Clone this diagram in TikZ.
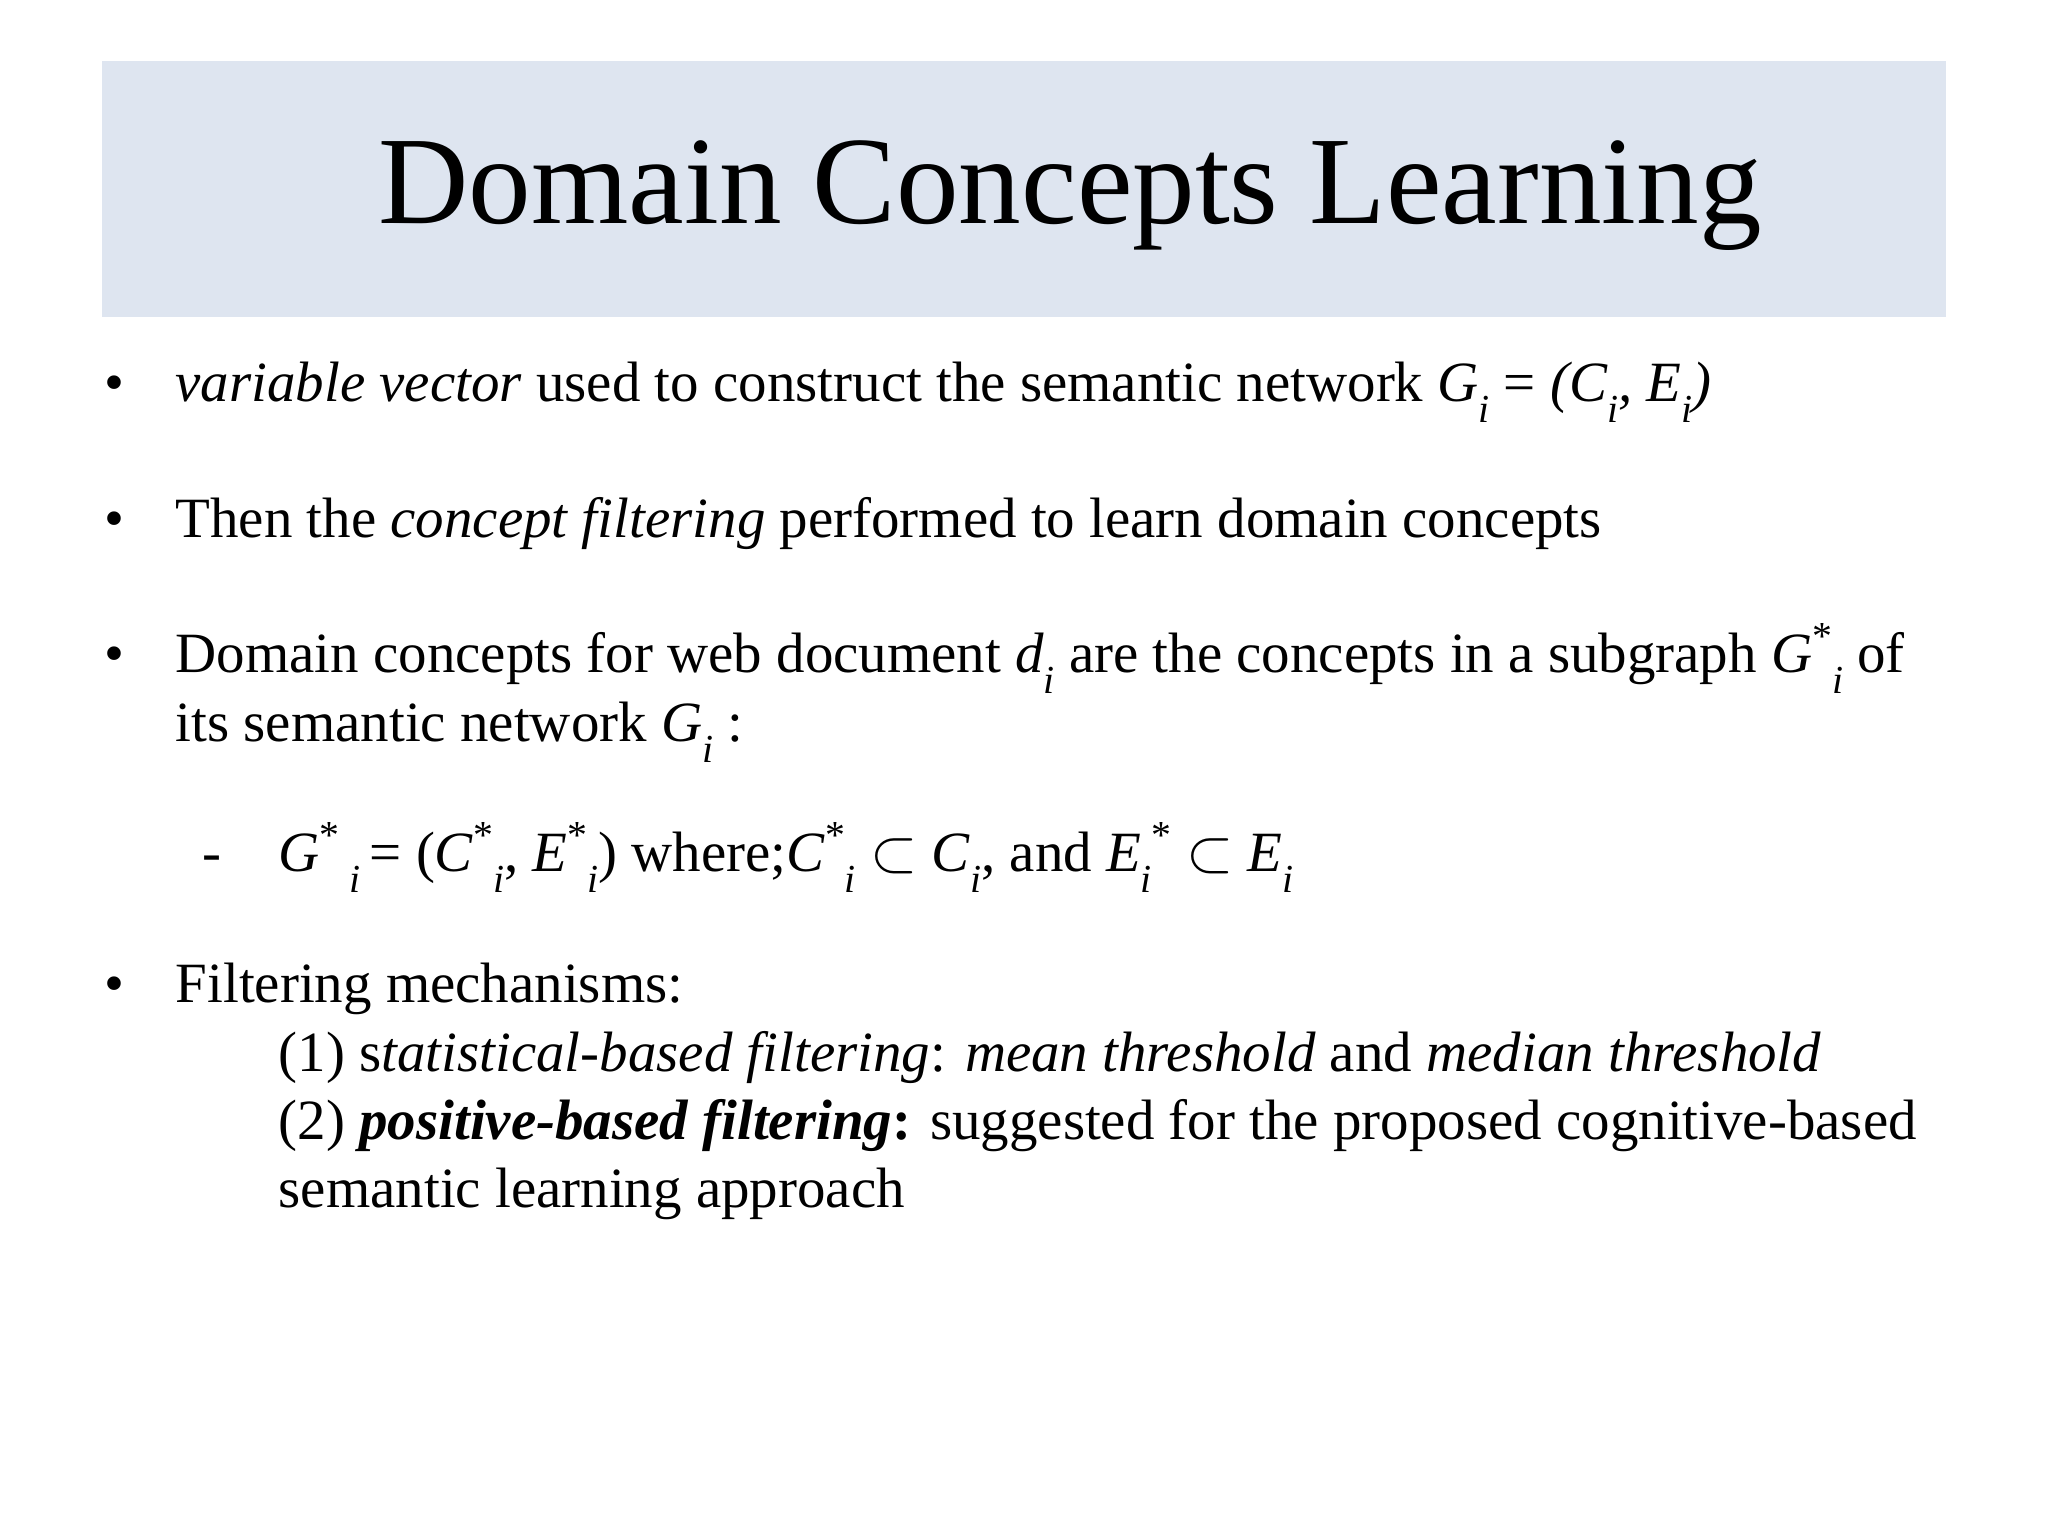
\documentclass[tikz,border=0pt]{standalone}
\usepackage{fontspec}
\setmainfont{Liberation Serif}
\newcommand{\sbi}{\raisebox{-0.8ex}{\fontsize{11.3}{12}\selectfont\itshape i}}
\newcommand{\spst}{\raisebox{0.9ex}{\fontsize{11.3}{12}\selectfont *}}
\begin{document}
\begin{tikzpicture}[x=1cm,y=1cm,
  txt/.style={anchor=base west,inner sep=0pt,font=\fontsize{16.2}{20}\selectfont},
  bul/.style={anchor=base,inner sep=0pt,font=\fontsize{16.2}{20}\selectfont}]
\useasboundingbox (0,0) rectangle (20.48,-15.36);
\fill[white] (0,0) rectangle (20.48,-15.36);
\fill[fill={rgb,255:red,222;green,229;blue,240}] (1.02,-0.61) rectangle (19.46,-3.17);
\node[inner sep=0pt,font=\fontsize{35.6}{40}\selectfont] (title) at (10.7,-1.96) {Domain Concepts Learning};
\node[bul] (b1) at (1.14,-4.02) {•};
\node[txt] (t1) at (1.75,-4.02) {\textit{variable vector} used to construct the semantic network \textit{G}\sbi\ = \textit{(C\sbi, E\sbi)}};
\node[bul] (b2) at (1.14,-5.38) {•};
\node[txt] (t2) at (1.75,-5.38) {Then the \textit{concept filtering} performed to learn domain concepts};
\node[bul] (b3) at (1.14,-6.73) {•};
\node[txt] (t3) at (1.75,-6.73) {Domain concepts for web document \textit{d}\sbi\ are the concepts in a subgraph \textit{G}\spst\sbi\ of};
\node[txt] (t3b) at (1.75,-7.42) {its semantic network \textit{G}\sbi\ :};
\node[bul] (d1) at (2.12,-8.72) {-};
\node[txt] (t4) at (2.78,-8.72) {\textit{G}\spst\,\sbi\,= (\textit{C}\spst\sbi, \textit{E}\spst\sbi) where;\textit{C}\spst\sbi\ $\subset$ \textit{C}\sbi, and \textit{E}\sbi\spst\ $\subset$ \textit{E}\sbi};
\node[bul] (b4) at (1.14,-10.03) {•};
\node[txt] (t5) at (1.75,-10.03) {Filtering mechanisms:};
\node[txt] (t6) at (2.78,-10.71) {(1) s\textit{tatistical-based filtering}: \textit{mean threshold} and \textit{median threshold}};
\node[txt] (t7) at (2.78,-11.39) {(2) \textbf{\textit{positive-based filtering}:} suggested for the proposed cognitive-based};
\node[txt] (t8) at (2.78,-12.07) {semantic learning approach};
\end{tikzpicture}
\end{document}
